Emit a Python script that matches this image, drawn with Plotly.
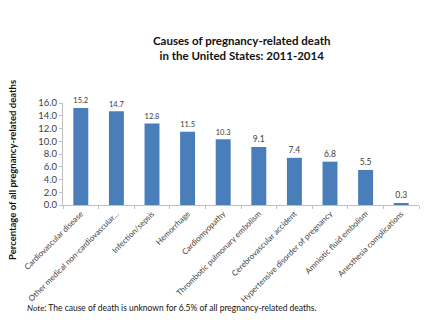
import plotly.graph_objects as go

causes = [
    "Cardiovascular disease",
    "Other medical non-cardiovascular…",
    "Infection/sepsis",
    "Hemorrhage",
    "Cardiomyopathy",
    "Thrombotic pulmonary embolism",
    "Cerebrovascular accident",
    "Hypertensive disorder of pregnancy",
    "Amniotic fluid embolism",
    "Anesthesia complications",
]
percent = [15.2, 14.7, 12.8, 11.5, 10.3, 9.1, 7.4, 6.8, 5.5, 0.3]
y_ticks = [0, 2, 4, 6, 8, 10, 12, 14, 16]

font = "Lato, 'Open Sans', sans-serif"

W, H = 434, 322
ML, MR, MT, MB = 63, 15, 103, 117
plot_w = W - ML - MR
plot_h = H - MT - MB


def px_to_paper(px, py):
    """Convert page pixel coordinates to paper coordinates."""
    return (px - ML) / plot_w, (H - MB - py) / plot_h


tx, ty = px_to_paper(241, 48)
nx, ny = px_to_paper(25, 308)
yx, yy = px_to_paper(12, 170)

fig = go.Figure(
    go.Bar(
        x=causes,
        y=percent,
        marker=dict(color="#4a7ebb", line=dict(width=0)),
        width=0.42,
        text=[f"{v:.1f}" for v in percent],
        textposition="outside",
        textfont=dict(size=8.5, color="#404040", family=font),
        cliponaxis=False,
    )
)

fig.update_layout(
    width=W,
    height=H,
    margin=dict(l=ML, r=MR, t=MT, b=MB),
    paper_bgcolor="white",
    plot_bgcolor="white",
    showlegend=False,
    font=dict(family=font),
    annotations=[
        dict(
            text="<b>Causes of pregnancy-related death<br>in the United States: 2011-2014</b>",
            x=tx, y=ty, xref="paper", yref="paper",
            yanchor="middle", xanchor="center", showarrow=False,
            font=dict(size=11.5, color="#111111", family=font),
            align="center",
        ),
        dict(
            text="<i>Note</i>: The cause of death is unknown for 6.5% of all pregnancy-related deaths.",
            x=nx, y=ny, xref="paper", yref="paper",
            xanchor="left", yanchor="middle", showarrow=False,
            font=dict(size=8.5, color="#111111", family=font),
        ),
        dict(
            text="<b>Percentage of all pregnancy-related deaths</b>",
            x=yx, y=yy, xref="paper", yref="paper",
            textangle=-90, xanchor="center", yanchor="middle", showarrow=False,
            font=dict(size=9.5, color="#111111", family=font),
        ),
    ],
)

fig.update_xaxes(
    tickangle=-45,
    tickfont=dict(size=8, color="#404040", family=font),
    showline=True,
    linecolor="#bfbfbf",
    linewidth=1,
    ticks="outside",
    tickson="boundaries",
    ticklen=3,
    tickcolor="#bfbfbf",
    showgrid=False,
)
fig.update_yaxes(
    range=[0, 16],
    tickvals=y_ticks,
    ticktext=[f"{v:.1f}" for v in y_ticks],
    tickfont=dict(size=9.5, color="#404040", family=font),
    showline=True,
    linecolor="#bfbfbf",
    linewidth=1,
    ticks="outside",
    ticklen=3,
    tickcolor="#bfbfbf",
    showgrid=False,
    zeroline=False,
)

fig.write_html("out.html")
